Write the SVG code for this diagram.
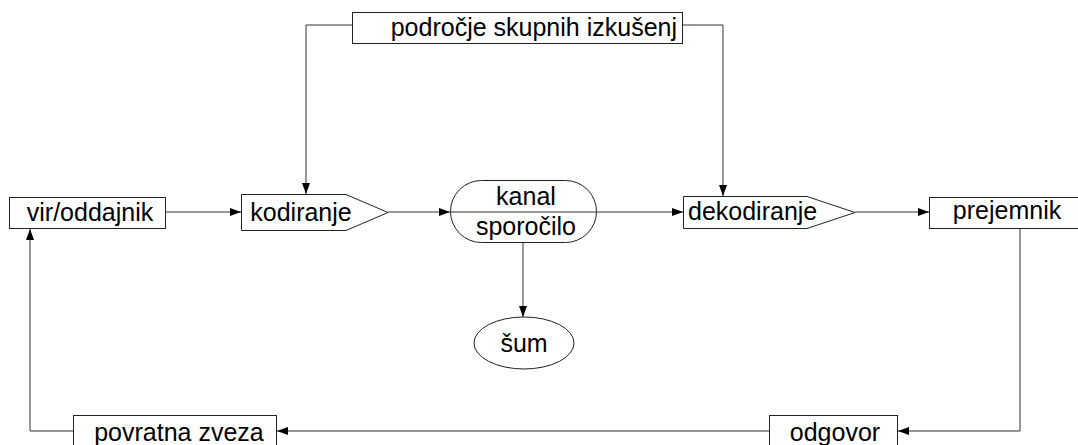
<svg xmlns="http://www.w3.org/2000/svg" width="1078" height="445" viewBox="0 0 1078 445">
  <style>
    .box { fill: #fff; stroke: #222; stroke-width: 1; }
    .lbl { font-family: "Liberation Sans", Arial, sans-serif; font-size: 25px; fill: #000; }
    .wire { fill: none; stroke: #333; stroke-width: 1; }
  </style>
  <defs>
    <marker id="arrow" viewBox="0 0 11 8" refX="11" refY="4" markerWidth="11" markerHeight="8" markerUnits="userSpaceOnUse" orient="auto">
      <path d="M0,0 L11,4 L0,8 Z" fill="#000"/>
    </marker>
  </defs>
  <rect width="1078" height="445" fill="#fff"/>

  <g id="connectors">
    <path class="wire" d="M166,212 H241" marker-end="url(#arrow)"/>
    <path class="wire" d="M388,212 H450" marker-end="url(#arrow)"/>
    <path class="wire" d="M597,212 H683" marker-end="url(#arrow)"/>
    <path class="wire" d="M855,212 H929" marker-end="url(#arrow)"/>
    <path class="wire" d="M352,25 H306 V194" marker-end="url(#arrow)"/>
    <path class="wire" d="M683,25 H723 V196" marker-end="url(#arrow)"/>
    <path class="wire" d="M523,243 V317" marker-end="url(#arrow)"/>
    <path class="wire" d="M1020,228 V431 H898" marker-end="url(#arrow)"/>
    <path class="wire" d="M769,431 H277" marker-end="url(#arrow)"/>
    <path class="wire" d="M73,431 H30 V229" marker-end="url(#arrow)"/>
  </g>

  <g id="izkusnje">
    <rect class="box" x="352.5" y="12.5" width="330" height="31"/>
    <text class="lbl" x="677" y="36" text-anchor="end">področje skupnih izkušenj</text>
  </g>

  <g id="vir">
    <rect class="box" x="9.5" y="197.5" width="156" height="31"/>
    <text class="lbl" x="90" y="221" text-anchor="middle">vir/oddajnik</text>
  </g>

  <g id="kodiranje">
    <path class="box" d="M241.5,194.5 H346 L388,212.5 L346,230.5 H241.5 Z"/>
    <text class="lbl" x="301" y="221" text-anchor="middle">kodiranje</text>
  </g>

  <g id="kanal">
    <rect class="box" x="450.5" y="180.5" width="146" height="62" rx="31" ry="31"/>
    <line class="wire" x1="450.5" y1="212" x2="596.5" y2="212"/>
    <text class="lbl" x="526" y="205" text-anchor="middle">kanal</text>
    <text class="lbl" x="526" y="235" text-anchor="middle">sporočilo</text>
  </g>

  <g id="dekodiranje">
    <path class="box" d="M683.5,196.5 H807 L855,212.5 L807,228.5 H683.5 Z"/>
    <text class="lbl" x="688" y="220">dekodiranje</text>
  </g>

  <g id="prejemnik">
    <rect class="box" x="929.5" y="197.5" width="150" height="31"/>
    <text class="lbl" x="1007" y="219" text-anchor="middle">prejemnik</text>
  </g>

  <g id="sum">
    <ellipse class="box" cx="524" cy="343" rx="50" ry="26"/>
    <text class="lbl" x="524" y="352" text-anchor="middle">šum</text>
  </g>

  <g id="odgovor">
    <rect class="box" x="769.5" y="415.5" width="128" height="40"/>
    <text class="lbl" x="835" y="441" text-anchor="middle">odgovor</text>
  </g>

  <g id="povratna">
    <rect class="box" x="73.5" y="415.5" width="203" height="40"/>
    <text class="lbl" x="179" y="441" text-anchor="middle">povratna zveza</text>
  </g>
</svg>
